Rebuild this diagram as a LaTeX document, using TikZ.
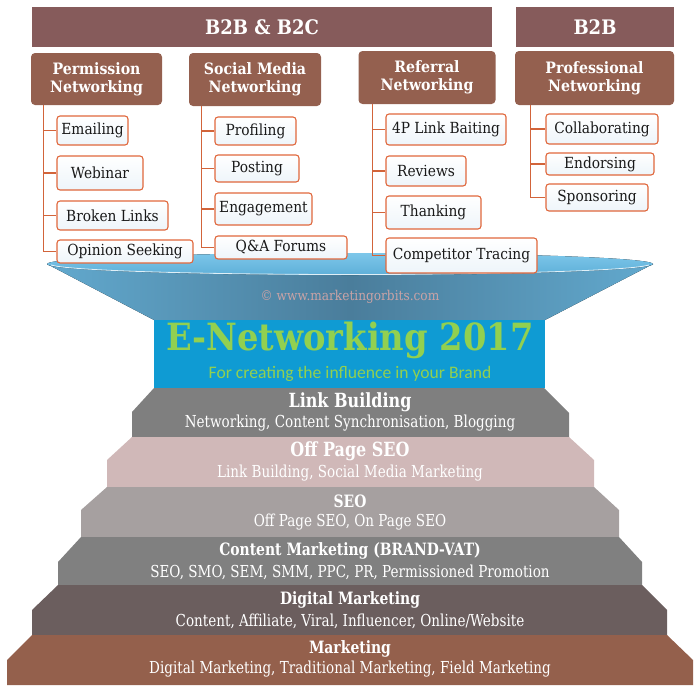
\documentclass[tikz,border=0pt]{standalone}
\usepackage{fontspec}
\setmainfont{DejaVu Serif}[FakeStretch=0.9]
\newfontfamily\pyrfont{DejaVu Serif}[FakeStretch=0.82]
\newfontfamily\subfont{Carlito}
\definecolor{hdrcol}{HTML}{865B5B}
\definecolor{catcol}{HTML}{94604F}
\definecolor{leafline}{HTML}{E0673C}
\definecolor{leafbot}{HTML}{EEF5FA}
\definecolor{trunkcol}{HTML}{D2643A}
\definecolor{boxblue}{HTML}{0F9BD3}
\definecolor{titlegreen}{HTML}{92D050}
\definecolor{copycol}{HTML}{C9A3A6}
\definecolor{lvA}{HTML}{7F7F7F}
\definecolor{lvB}{HTML}{D0B8B8}
\definecolor{lvC}{HTML}{A6A0A0}
\definecolor{lvD}{HTML}{808080}
\definecolor{lvE}{HTML}{6B5E5E}
\definecolor{lvF}{HTML}{94604C}
\definecolor{coneside}{HTML}{62A9CE}
\definecolor{conemid}{HTML}{4A7D9B}
\definecolor{rimtop}{HTML}{7DC7EA}
\definecolor{rimbot}{HTML}{5EAFD8}
\begin{document}
\begin{tikzpicture}[x=1pt,y=-1pt,
  hdr/.style={fill=hdrcol, minimum height=40pt, inner sep=0pt, text=white,
    font=\bfseries\fontsize{20}{22}\selectfont},
  cat/.style={fill=catcol, rounded corners=4pt, inner sep=0pt, text=white, align=center,
    font=\bfseries\fontsize{15.7}{18}\selectfont},
  leaf/.style={draw=leafline, line width=1.1pt, rounded corners=3pt, top color=white,
    bottom color=leafbot, inner sep=0pt, text=black!90,
    font=\fontsize{15.3}{17}\selectfont},
  trunk/.style={draw=trunkcol, line width=1.2pt},
  lvtitle/.style={text=white, inner sep=0pt, font=\pyrfont\bfseries\fontsize{17}{19}\selectfont},
  lvbig/.style={text=white, inner sep=0pt, font=\pyrfont\bfseries\fontsize{19.5}{21}\selectfont},
  lvsub/.style={text=white, inner sep=0pt, font=\pyrfont\fontsize{16.5}{18}\selectfont}]
\useasboundingbox (0,0) rectangle (700,693);

% funnel
\fill[left color=coneside, right color=coneside, middle color=conemid]
  (47,264) -- (653,264) -- (545,320) -- (154,320) -- cycle;
\fill[top color=rimtop, bottom color=rimbot] (350,264) ellipse [x radius=303, y radius=11];
\draw[white, line width=0.8pt, opacity=0.8]
  plot[domain=185:355, samples=60] ({350+300*cos(\x)},{264-10.5*sin(\x)});

% blue title box
\fill[boxblue] (154,320) rectangle (545,388);
\node[text=copycol, inner sep=0pt, font=\fontsize{13.5}{15}\selectfont] (copy) at (350,297) {© www.marketingorbits.com};
\node[text=titlegreen, inner sep=0pt, font=\bfseries\fontsize{37.5}{40}\selectfont] (title) at (350,340) {E-Networking 2017};
\node[text=titlegreen, inner sep=0pt, font=\subfont\fontsize{17.6}{19}\selectfont] (subtitle) at (350,374) {For creating the influence in your Brand};

% pyramid
\fill[lvA] (154,388) -- (544,388) -- (569,413) -- (569,437) -- (132,437) -- (132,412) -- cycle;
\fill[lvB] (132,437) -- (569,437) -- (594,460) -- (594,487) -- (107,487) -- (107,460) -- cycle;
\fill[lvC] (107,487) -- (594,487) -- (619,510) -- (619,537) -- (81,537) -- (81,510) -- cycle;
\fill[lvD] (81,537) -- (619,537) -- (642,562) -- (642,585) -- (58,585) -- (58,562) -- cycle;
\fill[lvE] (58,585) -- (642,585) -- (667,610) -- (667,635) -- (32,635) -- (32,610) -- cycle;
\fill[lvF] (32,635) -- (667,635) -- (693,660) -- (693,685) -- (7,685) -- (7,660) -- cycle;

\node[lvbig] (t1) at (350,402) {Link Building};
\node[lvsub] (s1) at (350,423) {Networking, Content Synchronisation, Blogging};
\node[lvbig] (t2) at (350,451) {Off Page SEO};
\node[lvsub] (s2) at (350,473) {Link Building, Social Media Marketing};
\node[lvtitle] (t3) at (350,501) {SEO};
\node[lvsub] (s3) at (350,522) {Off Page SEO, On Page SEO};
\node[lvtitle] (t4) at (350,551) {Content Marketing (BRAND-VAT)};
\node[lvsub] (s4) at (350,572) {SEO, SMO, SEM, SMM, PPC, PR, Permissioned Promotion};
\node[lvtitle] (t5) at (350,600) {Digital Marketing};
\node[lvsub] (s5) at (350,621) {Content, Affiliate, Viral, Influencer, Online/Website};
\node[lvtitle] (t6) at (350,649) {Marketing};
\node[lvsub] (s6) at (350,669) {Digital Marketing, Traditional Marketing, Field Marketing};

% headers
\node[hdr, minimum width=460pt] (h1) at (262,27) {B2B \& B2C};
\node[hdr, minimum width=158pt] (h2) at (595,27) {B2B};

% categories
\node[cat, minimum width=131pt, minimum height=52pt] (c1) at (96.5,79) {Permission\\Networking};
\node[cat, minimum width=132pt, minimum height=53pt] (c2) at (255,79.5) {Social Media\\Networking};
\node[cat, minimum width=137pt, minimum height=53pt] (c3) at (427,77.5) {Referral\\Networking};
\node[cat, minimum width=159pt, minimum height=54pt] (c4) at (594.5,78) {Professional\\Networking};

% trunk anchors
\coordinate (k1) at ([xshift=13pt]c1.south west);
\coordinate (k2) at ([xshift=13pt]c2.south west);
\coordinate (k3) at ([xshift=14pt]c3.south west);
\coordinate (k4) at ([xshift=16pt]c4.south west);

% leaves
\node[leaf, minimum width=71pt, minimum height=29pt] (a1) at (92.5,130.5) {Emailing};
\node[leaf, minimum width=86pt, minimum height=34pt] (a2) at (100,173) {Webinar};
\node[leaf, minimum width=111pt, minimum height=29pt] (a3) at (112.5,215.5) {Broken Links};
\node[leaf, minimum width=136pt, minimum height=23pt] (a4) at (125,251.5) {Opinion Seeking};

\node[leaf, minimum width=81pt, minimum height=28pt] (b1) at (255.5,131) {Profiling};
\node[leaf, minimum width=84pt, minimum height=27pt] (b2) at (257,168.5) {Posting};
\node[leaf, minimum width=97pt, minimum height=32pt] (b3) at (263.5,209) {Engagement};
\node[leaf, minimum width=132pt, minimum height=23pt] (b4) at (281,247.5) {Q\&A Forums};

\node[leaf, minimum width=120pt, minimum height=31pt] (r1) at (446,129.5) {4P Link Baiting};
\node[leaf, minimum width=80pt, minimum height=30pt] (r2) at (426,171) {Reviews};
\node[leaf, minimum width=95pt, minimum height=33pt] (r3) at (433.5,212.5) {Thanking};
\node[leaf, minimum width=151pt, minimum height=35pt] (r4) at (461.5,255.5) {Competitor Tracing};

\node[leaf, minimum width=112pt, minimum height=30pt] (p1) at (602,129) {Collaborating};
\node[leaf, minimum width=108pt, minimum height=22pt] (p2) at (600,164) {Endorsing};
\node[leaf, minimum width=102pt, minimum height=27pt] (p3) at (597,197.5) {Sponsoring};

% connectors
\foreach \l in {a1,a2,a3,a4} \draw[trunk] (k1) |- (\l.west);
\foreach \l in {b1,b2,b3,b4} \draw[trunk] (k2) |- (\l.west);
\foreach \l in {r1,r2,r3,r4} \draw[trunk] (k3) |- (\l.west);
\foreach \l in {p1,p2,p3} \draw[trunk] (k4) |- (\l.west);
\end{tikzpicture}
\end{document}
